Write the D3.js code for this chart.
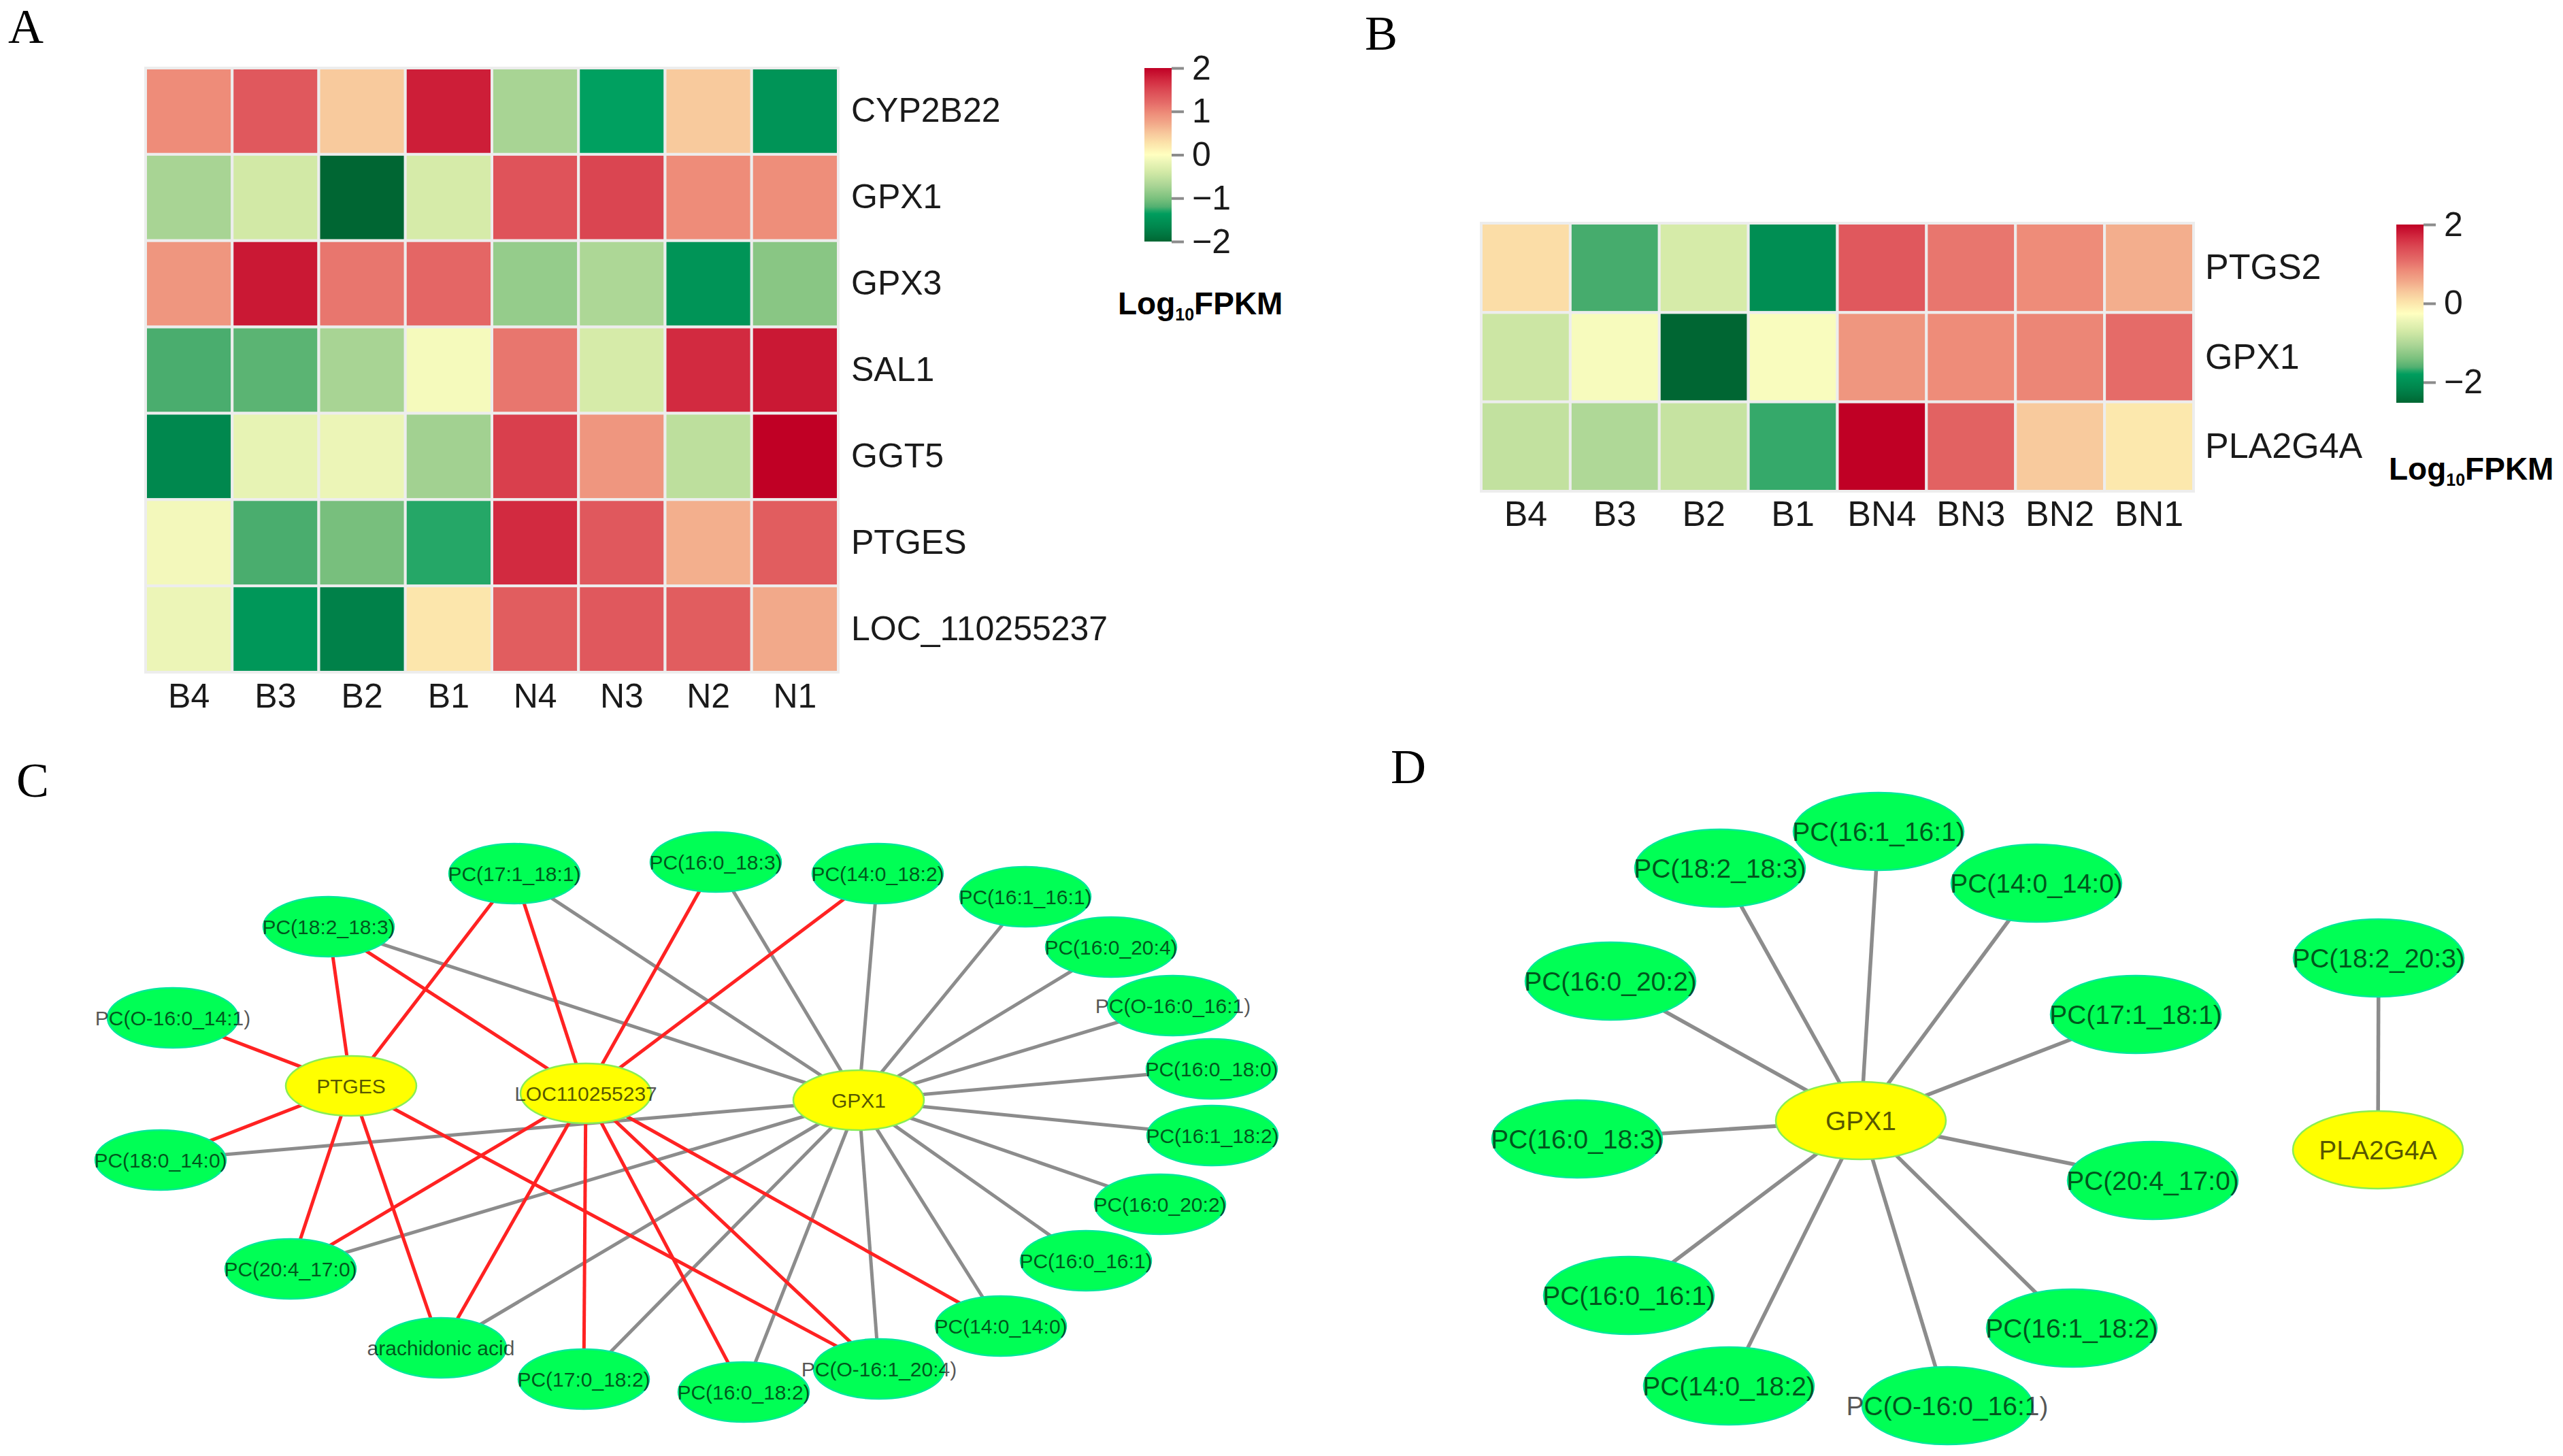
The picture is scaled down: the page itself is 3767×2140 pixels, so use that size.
<!DOCTYPE html>
<html>
<head>
<meta charset="utf-8">
<script src="https://cdn.jsdelivr.net/npm/d3@7/dist/d3.min.js"></script>
<style>
  body { margin: 0; background: #fff; }
  svg { display: block; }
</style>
</head>
<body>
<script>
// ---- heatmap A ----
const samplesA = ["B4", "B3", "B2", "B1", "N4", "N3", "N2", "N1"];
const genesA = ["CYP2B22", "GPX1", "GPX3", "SAL1", "GGT5", "PTGES", "LOC_110255237"];
const cyp2b22 = [0.96, 1.36, 0.48, 1.8, -0.72, -1.32, 0.48, -1.48];
const gpx1A = [-0.72, -0.4, -2.0, -0.36, 1.4, 1.52, 0.96, 0.94];
const gpx3 = [0.88, 1.84, 1.12, 1.24, -0.84, -0.68, -1.48, -0.92];
const sal1 = [-1.24, -1.16, -0.72, -0.08, 1.12, -0.36, 1.72, 1.84];
const ggt5 = [-1.64, -0.2, -0.16, -0.76, 1.56, 0.88, -0.56, 2.0];
const ptges = [-0.1, -1.24, -1.02, -1.28, 1.72, 1.36, 0.68, 1.32];
const loc110255237 = [-0.16, -1.44, -1.72, 0.24, 1.32, 1.36, 1.32, 0.72];
const ticksA = [2, 1, 0, -1, -2];

// ---- heatmap B ----
const samplesB = ["B4", "B3", "B2", "B1", "BN4", "BN3", "BN2", "BN1"];
const genesB = ["PTGS2", "GPX1", "PLA2G4A"];
const ptgs2 = [0.11, -1.65, -0.66, -2.0, 1.28, 1.01, 0.83, 0.52];
const gpx1B = [-0.75, -0.32, -2.5, -0.3, 0.74, 0.83, 0.88, 1.1];
const pla2g4a = [-0.84, -1.0, -0.8, -1.67, 2.0, 1.19, 0.29, 0.0];
const ticksB = [2, 0, -2];

// ---- network C (layout units) ----
const nodesC = [
  {id: "PTGES", x: 41.6, y: 39.6, hub: true},
  {id: "LOC110255237", x: 76.1, y: 40.7, hub: true},
  {id: "GPX1", x: 116.2, y: 41.7, hub: true},
  {id: "PC(17:1_18:1)", x: 65.6, y: 8.4},
  {id: "PC(18:2_18:3)", x: 38.3, y: 16.2},
  {id: "PC(O-16:0_14:1)", x: 15.4, y: 29.6},
  {id: "PC(18:0_14:0)", x: 13.6, y: 50.5},
  {id: "PC(20:4_17:0)", x: 32.7, y: 66.5},
  {id: "arachidonic acid", x: 54.8, y: 78.1},
  {id: "PC(17:0_18:2)", x: 75.8, y: 82.7},
  {id: "PC(16:0_18:2)", x: 99.3, y: 84.6},
  {id: "PC(O-16:1_20:4)", x: 119.2, y: 81.2},
  {id: "PC(14:0_14:0)", x: 137.1, y: 74.9},
  {id: "PC(16:0_16:1)", x: 149.6, y: 65.3},
  {id: "PC(16:0_20:2)", x: 160.5, y: 57.0},
  {id: "PC(16:1_18:2)", x: 168.2, y: 46.9},
  {id: "PC(16:0_18:0)", x: 168.1, y: 37.1},
  {id: "PC(O-16:0_16:1)", x: 162.4, y: 27.8},
  {id: "PC(16:0_20:4)", x: 153.3, y: 19.2},
  {id: "PC(16:1_16:1)", x: 140.7, y: 11.8},
  {id: "PC(14:0_18:2)", x: 119.0, y: 8.4},
  {id: "PC(16:0_18:3)", x: 95.2, y: 6.7}
];
const ptgesLinks = ["PC(18:2_18:3)", "PC(17:1_18:1)", "PC(O-16:0_14:1)", "PC(18:0_14:0)",
  "PC(20:4_17:0)", "arachidonic acid", "PC(O-16:1_20:4)"];
const locLinks = ["PC(18:2_18:3)", "PC(17:1_18:1)", "PC(16:0_18:3)", "PC(14:0_18:2)",
  "PC(20:4_17:0)", "arachidonic acid", "PC(17:0_18:2)", "PC(16:0_18:2)",
  "PC(O-16:1_20:4)", "PC(14:0_14:0)"];
const gpx1LinksC = ["PC(17:1_18:1)", "PC(18:2_18:3)", "PC(18:0_14:0)", "PC(20:4_17:0)",
  "arachidonic acid", "PC(17:0_18:2)", "PC(16:0_18:2)", "PC(O-16:1_20:4)",
  "PC(14:0_14:0)", "PC(16:0_16:1)", "PC(16:0_20:2)", "PC(16:1_18:2)",
  "PC(16:0_18:0)", "PC(O-16:0_16:1)", "PC(16:0_20:4)", "PC(16:1_16:1)",
  "PC(14:0_18:2)", "PC(16:0_18:3)"];

// ---- network D (layout units) ----
const nodesD = [
  {id: "GPX1", x: 53.5, y: 49.7, hub: true},
  {id: "PC(16:1_16:1)", x: 56.1, y: 7.2},
  {id: "PC(18:2_18:3)", x: 32.8, y: 12.6},
  {id: "PC(14:0_14:0)", x: 79.3, y: 14.8},
  {id: "PC(16:0_20:2)", x: 16.7, y: 29.2},
  {id: "PC(17:1_18:1)", x: 93.9, y: 34.1},
  {id: "PC(16:0_18:3)", x: 11.8, y: 52.4},
  {id: "PC(20:4_17:0)", x: 96.4, y: 58.5},
  {id: "PC(16:0_16:1)", x: 19.4, y: 75.4},
  {id: "PC(16:1_18:2)", x: 84.5, y: 80.2},
  {id: "PC(14:0_18:2)", x: 34.1, y: 88.7},
  {id: "PC(O-16:0_16:1)", x: 66.2, y: 91.6},
  {id: "PC(18:2_20:3)", x: 129.6, y: 25.8},
  {id: "PLA2G4A", x: 129.5, y: 54.0, hub: true}
];
const gpx1LinksD = ["PC(16:1_16:1)", "PC(18:2_18:3)", "PC(14:0_14:0)", "PC(16:0_20:2)",
  "PC(17:1_18:1)", "PC(16:0_18:3)", "PC(20:4_17:0)", "PC(16:0_16:1)",
  "PC(16:1_18:2)", "PC(14:0_18:2)", "PC(O-16:0_16:1)"];
const pla2g4aLinks = ["PC(18:2_20:3)"];

// colour ramp (green - pale yellow - red), position 0..1
const rampT = [0, 0.08, 0.17, 0.19, 0.25, 0.32, 0.40, 0.47, 0.50, 0.56, 0.62, 0.68, 0.74, 0.80, 0.87, 0.93, 1];
const rampC = ["#006633", "#00854c", "#00a060", "#4aad6e", "#7cc17e", "#a8d494", "#d2e9a6", "#f0f7ba",
  "#ffffc0", "#fce6ac", "#f8ca9d", "#f2a98a", "#ee8c79", "#e56b68", "#dc4a54", "#d22a40", "#c00025"];
const ramp = d3.scaleLinear().domain(rampT).range(rampC).interpolate(d3.interpolateRgb).clamp(true);

const W = 3767, H = 2140;
const sans = "'Liberation Sans', Arial, sans-serif";
const serif = "'Liberation Serif', 'Times New Roman', serif";

const svg = d3.select("body").append("svg")
  .attr("width", W)
  .attr("height", H)
  .style("background", "#fff");
const defs = svg.append("defs");

// panel letters
const letters = [["A", 12, 63], ["B", 2006, 73], ["C", 24, 1171], ["D", 2044, 1151]];
svg.selectAll("text.letter")
  .data(letters)
  .enter().append("text")
  .attr("class", "letter")
  .attr("x", d => d[1])
  .attr("y", d => d[2])
  .attr("font-family", serif)
  .attr("font-size", 72)
  .attr("fill", "#000")
  .text(d => d[0]);

function heatmap(o) {
  const g = svg.append("g");
  const x = d3.scaleBand().domain(o.cols).range([o.x0, o.x1]);
  const y = d3.scaleBand().domain(o.rows).range([o.y0, o.y1]);
  const t = d3.scaleLinear().domain(o.domain).range([0, 1]);
  const cells = [];
  o.rows.forEach((r, i) => o.values[i].forEach((v, j) => cells.push({r: r, c: o.cols[j], v: v})));

  g.selectAll("rect")
    .data(cells)
    .enter().append("rect")
    .attr("x", d => x(d.c))
    .attr("y", d => y(d.r))
    .attr("width", x.bandwidth())
    .attr("height", y.bandwidth())
    .attr("fill", d => ramp(t(d.v)))
    .attr("stroke", "#ededed")
    .attr("stroke-width", 4);

  // row labels
  g.append("g")
    .attr("transform", `translate(${o.x1},0)`)
    .call(d3.axisRight(y).tickSize(0).tickPadding(o.labelPad))
    .call(a => a.select(".domain").remove())
    .selectAll("text")
    .attr("font-family", sans)
    .attr("font-size", o.fontSize)
    .attr("fill", "#1a1a1a");

  // column labels
  g.append("g")
    .attr("transform", `translate(0,${o.y1})`)
    .call(d3.axisBottom(x).tickSize(0).tickPadding(o.colPad))
    .call(a => a.select(".domain").remove())
    .selectAll("text")
    .attr("font-family", sans)
    .attr("font-size", o.fontSize)
    .attr("fill", "#1a1a1a");
}

function legend(o) {
  const id = "grad" + o.name;
  const grad = defs.append("linearGradient")
    .attr("id", id)
    .attr("x1", 0).attr("y1", 1).attr("x2", 0).attr("y2", 0);
  grad.selectAll("stop")
    .data(d3.range(0, 1.0001, 0.02))
    .enter().append("stop")
    .attr("offset", d => d)
    .attr("stop-color", d => ramp(d));

  const g = svg.append("g");
  g.append("rect")
    .attr("x", o.x)
    .attr("y", o.y0)
    .attr("width", 40)
    .attr("height", o.y1 - o.y0)
    .attr("fill", `url(#${id})`);

  const s = d3.scaleLinear().domain(o.domain).range([o.y1, o.y0]);
  const ax = g.append("g")
    .attr("transform", `translate(${o.x + 40},0)`)
    .call(d3.axisRight(s).tickValues(o.ticks).tickSize(18).tickPadding(12).tickFormat(d3.format("d")));
  ax.select(".domain").remove();
  ax.selectAll("line").attr("stroke", "#8c8c8c").attr("stroke-width", 4);
  ax.selectAll("text")
    .attr("font-family", sans)
    .attr("font-size", 50)
    .attr("fill", "#1a1a1a")
    .text(d => d < 0 ? "\u2212" + Math.abs(d) : d);

  const lab = g.append("text")
    .attr("x", o.labX)
    .attr("y", o.labY)
    .attr("font-family", sans)
    .attr("font-weight", "bold")
    .attr("font-size", 46)
    .attr("fill", "#000");
  lab.append("tspan").text("Log");
  lab.append("tspan").attr("font-size", 25).attr("dy", 9).text("10");
  lab.append("tspan").attr("dy", -9).text("FPKM");
}

heatmap({
  cols: samplesA, rows: genesA,
  values: [cyp2b22, gpx1A, gpx3, sal1, ggt5, ptges, loc110255237],
  domain: [-2, 2], x0: 214, x1: 1232, y0: 100, y1: 988,
  fontSize: 50, labelPad: 19, colPad: 16
});
legend({name: "A", x: 1682, y0: 100, y1: 355, domain: [-2, 2], ticks: ticksA, labX: 1643, labY: 462});

heatmap({
  cols: samplesB, rows: genesB,
  values: [ptgs2, gpx1B, pla2g4a],
  domain: [-2.5, 2], x0: 2177, x1: 3224, y0: 328, y1: 722,
  fontSize: 52, labelPad: 17, colPad: 14
});
legend({name: "B", x: 3522, y0: 330, y1: 592, domain: [-2.52, 2], ticks: ticksB, labX: 3511, labY: 705});

function network(o) {
  const x = d3.scaleLinear().domain(o.xd).range(o.xr);
  const y = d3.scaleLinear().domain(o.yd).range(o.yr);
  const byId = new Map(o.nodes.map(n => [n.id, n]));
  const g = svg.append("g");

  g.selectAll("line")
    .data(o.links)
    .enter().append("line")
    .attr("x1", d => x(byId.get(d.s).x))
    .attr("y1", d => y(byId.get(d.s).y))
    .attr("x2", d => x(byId.get(d.t).x))
    .attr("y2", d => y(byId.get(d.t).y))
    .attr("stroke", d => d.red ? "#ff2222" : "#8c8c8c")
    .attr("stroke-width", o.lw);

  const n = g.selectAll("g.node")
    .data(o.nodes)
    .enter().append("g")
    .attr("transform", d => `translate(${x(d.x)},${y(d.y)})`);
  n.append("ellipse")
    .attr("rx", o.rx)
    .attr("ry", o.ry)
    .attr("fill", d => d.hub ? "#ffff00" : "#00ff55")
    .attr("stroke", d => d.hub ? "#88ee55" : "#00e89a")
    .attr("stroke-width", 2.5);
  n.append("text")
    .attr("text-anchor", "middle")
    .attr("dy", "0.36em")
    .attr("font-family", sans)
    .attr("font-size", o.fontSize)
    .attr("fill", "#000")
    .attr("fill-opacity", 0.68)
    .text(d => d.id);
}

const linksC = []
  .concat(gpx1LinksC.map(t => ({s: "GPX1", t: t, red: false})))
  .concat(ptgesLinks.map(t => ({s: "PTGES", t: t, red: true})))
  .concat(locLinks.map(t => ({s: "LOC110255237", t: t, red: true})));
network({
  nodes: nodesC, links: linksC,
  xd: [0, 180], xr: [100, 1900], yd: [0, 90], yr: [1200, 2100],
  rx: 96, ry: 44, lw: 5, fontSize: 30
});

const linksD = []
  .concat(gpx1LinksD.map(t => ({s: "GPX1", t: t, red: false})))
  .concat(pla2g4aLinks.map(t => ({s: "PLA2G4A", t: t, red: false})));
network({
  nodes: nodesD, links: linksD,
  xd: [0, 150], xr: [2200, 3700], yd: [0, 100], yr: [1150, 2150],
  rx: 125, ry: 57, lw: 5.5, fontSize: 39
});
</script>
</body>
</html>
